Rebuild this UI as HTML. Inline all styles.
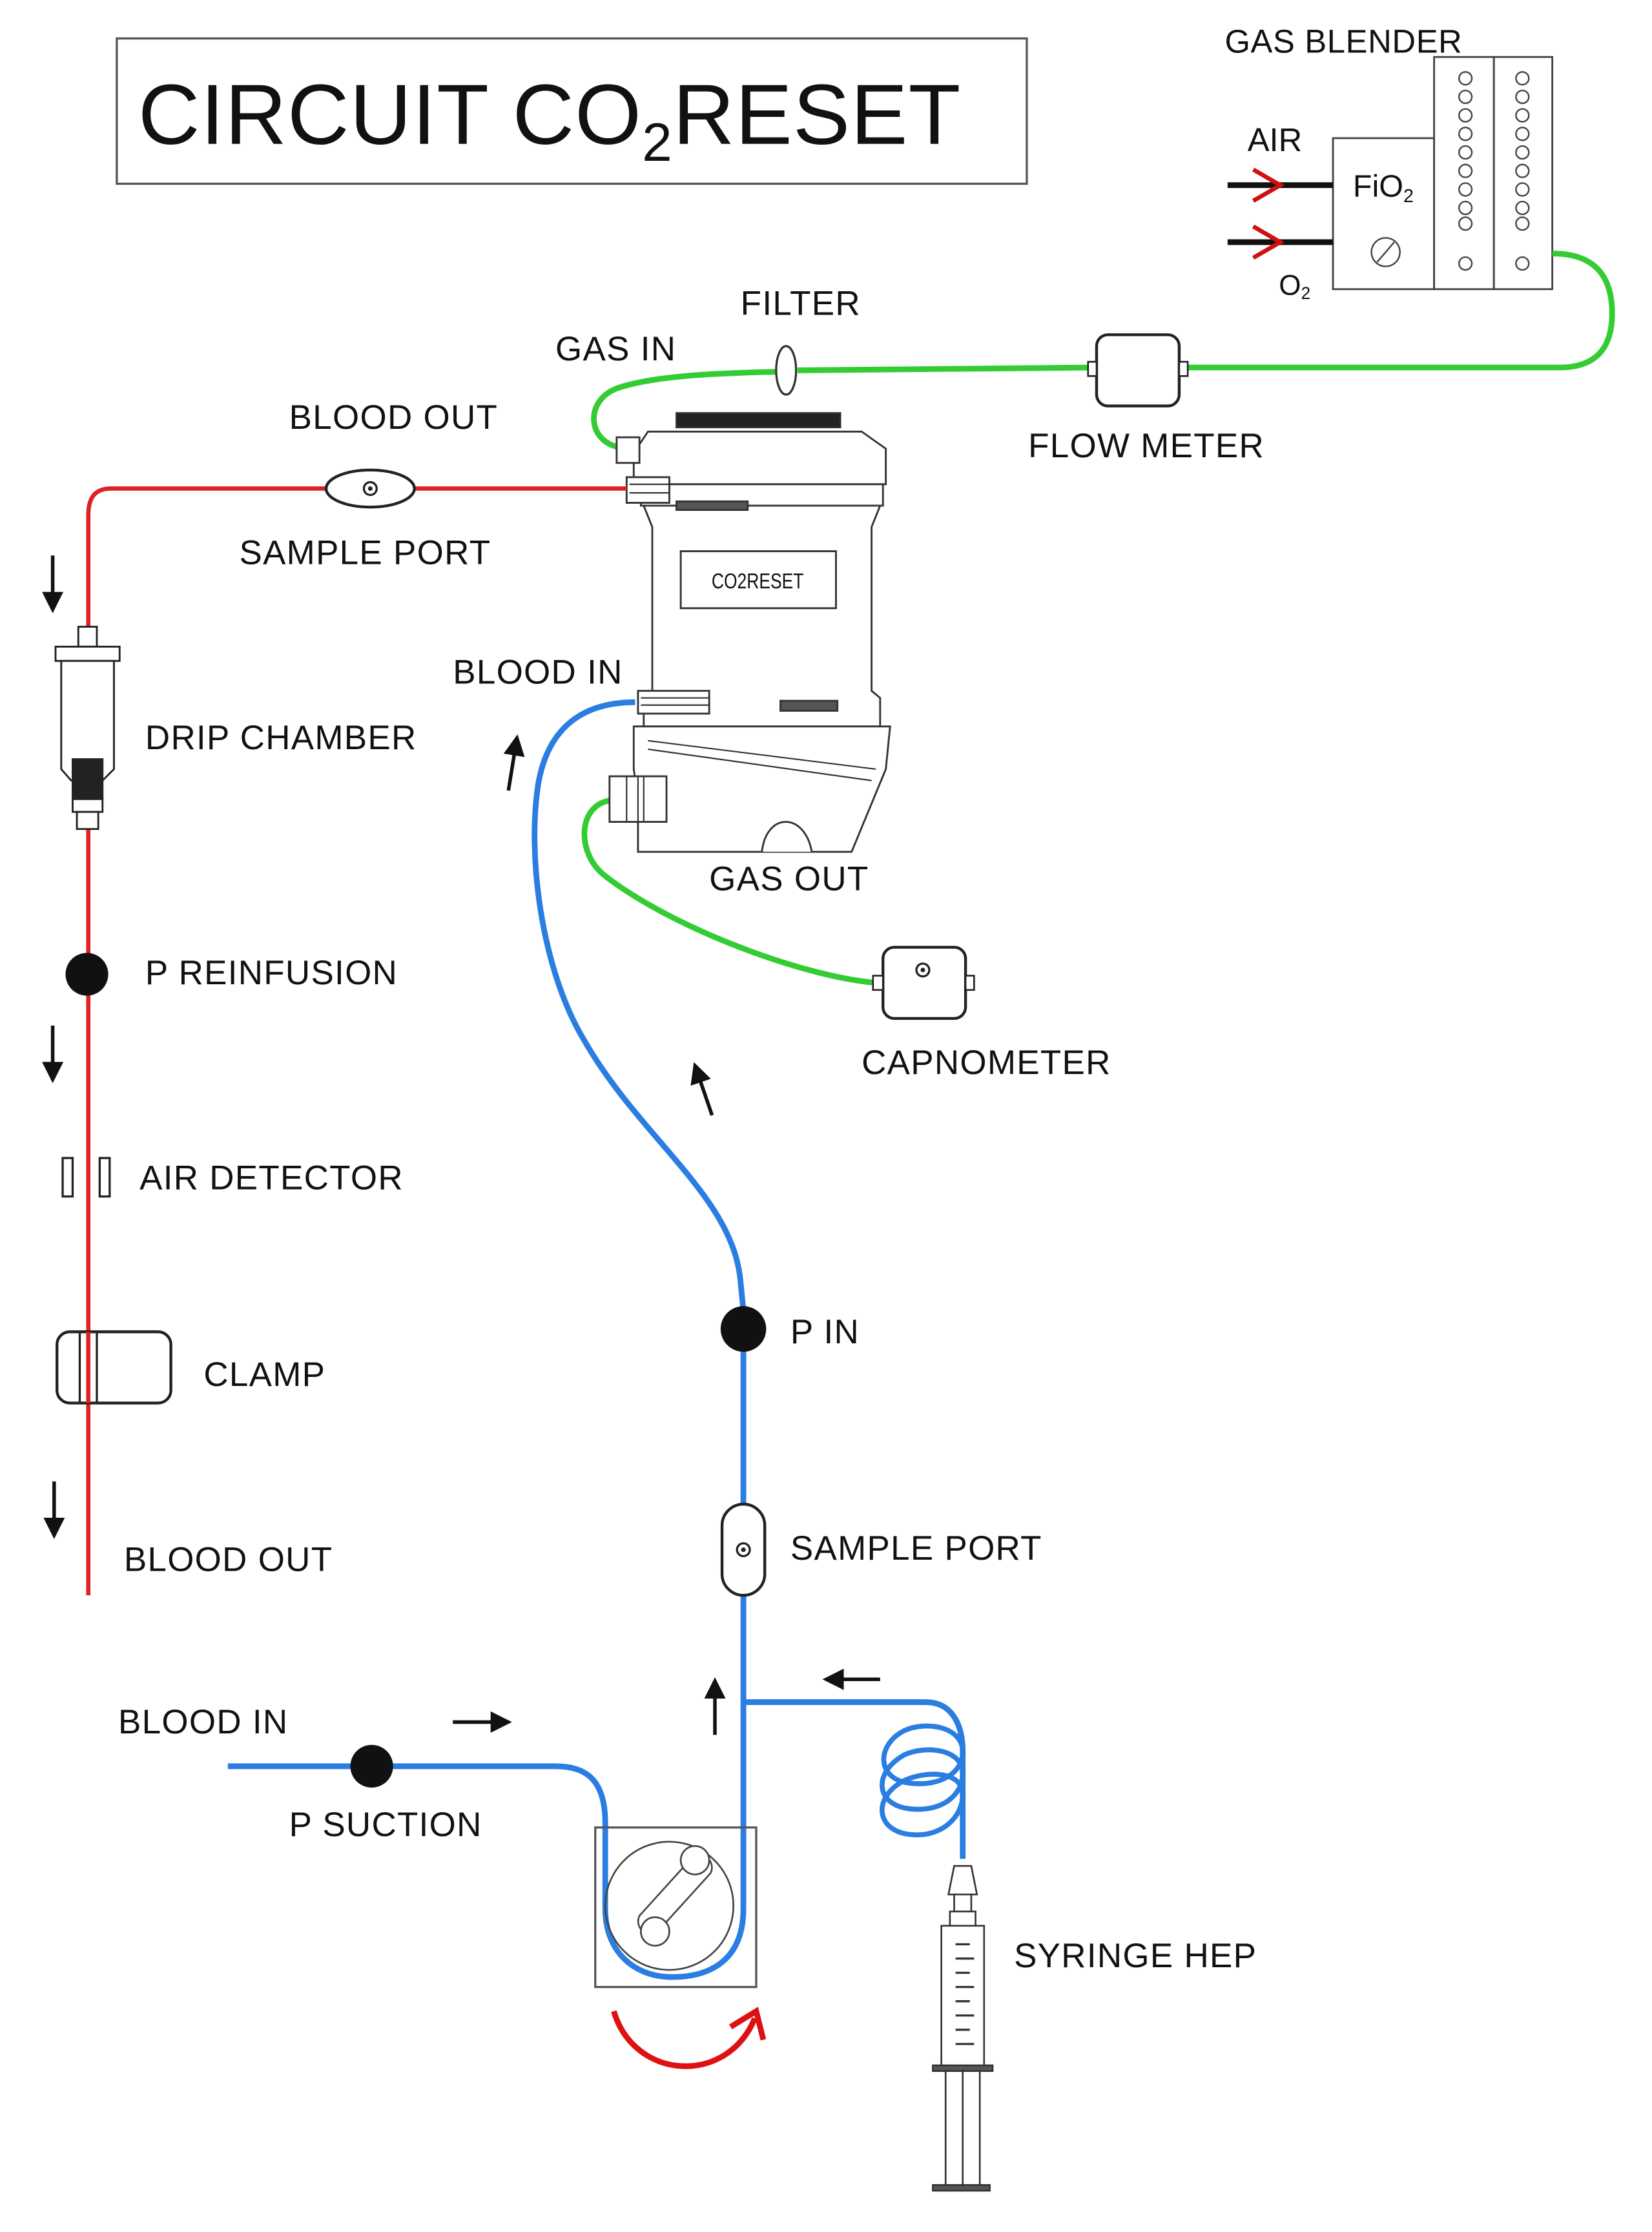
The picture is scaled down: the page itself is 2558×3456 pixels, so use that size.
<!DOCTYPE html>
<html><head><meta charset="utf-8"><style>
html,body{margin:0;padding:0;background:#fff;}
svg{display:block;}
text{font-family:"Liberation Sans",sans-serif;fill:#111;}
.l{font-size:24px;letter-spacing:0.6px;}
</style></head><body>
<svg width="2558" height="3456" viewBox="0 0 1160 1567" preserveAspectRatio="none" xmlns="http://www.w3.org/2000/svg">
<defs>
<marker id="ah" markerWidth="6" markerHeight="6" refX="5" refY="3" orient="auto" markerUnits="strokeWidth"><path d="M0,0 L6,3 L0,6 Z" fill="#111"/></marker>
</defs>
<rect width="1160" height="1567" fill="#fff"/>
<!-- Title -->
<rect x="82" y="27" width="639" height="102" fill="#fff" stroke="#555" stroke-width="1.5"/>
<text x="97" y="101" font-size="60" letter-spacing="0.5">CIRCUIT CO<tspan font-size="38" dy="12">2</tspan><tspan dy="-12">RESET</tspan></text>

<!-- Gas blender -->
<text x="860" y="37" font-size="23" letter-spacing="0.3">GAS BLENDER</text>
<rect x="936" y="97" width="71" height="106" fill="#fff" stroke="#444" stroke-width="1.3"/>
<rect x="1007" y="40" width="42" height="163" fill="#fff" stroke="#444" stroke-width="1.3"/>
<rect x="1049" y="40" width="41" height="163" fill="#fff" stroke="#444" stroke-width="1.3"/>
<g fill="none" stroke="#444" stroke-width="1.1">
<circle cx="1029" cy="55" r="4.5"/><circle cx="1029" cy="68" r="4.5"/><circle cx="1029" cy="81" r="4.5"/><circle cx="1029" cy="94" r="4.5"/><circle cx="1029" cy="107" r="4.5"/><circle cx="1029" cy="120" r="4.5"/><circle cx="1029" cy="133" r="4.5"/><circle cx="1029" cy="146" r="4.5"/><circle cx="1029" cy="157" r="4.5"/><circle cx="1029" cy="185" r="4.5"/>
<circle cx="1069" cy="55" r="4.5"/><circle cx="1069" cy="68" r="4.5"/><circle cx="1069" cy="81" r="4.5"/><circle cx="1069" cy="94" r="4.5"/><circle cx="1069" cy="107" r="4.5"/><circle cx="1069" cy="120" r="4.5"/><circle cx="1069" cy="133" r="4.5"/><circle cx="1069" cy="146" r="4.5"/><circle cx="1069" cy="157" r="4.5"/><circle cx="1069" cy="185" r="4.5"/>
<circle cx="973" cy="177" r="10"/><line x1="967" y1="184" x2="979" y2="170"/>
</g>
<text x="950" y="138" font-size="22">FiO<tspan font-size="13" dy="4">2</tspan></text>
<text x="876" y="106" font-size="23">AIR</text>
<text x="898" y="207" font-size="20">O<tspan font-size="12" dy="3">2</tspan></text>
<line x1="862" y1="130" x2="936" y2="130" stroke="#111" stroke-width="4"/>
<line x1="862" y1="170" x2="936" y2="170" stroke="#111" stroke-width="4"/>
<path d="M880,119 L899,130 L880,141" fill="none" stroke="#d01010" stroke-width="3"/>
<path d="M880,159 L899,170 L880,181" fill="none" stroke="#d01010" stroke-width="3"/>

<!-- Green gas lines -->
<g fill="none" stroke="#33cc33" stroke-width="4">
<path d="M1090,178 C1125,178 1132,200 1132,220 C1132,245 1120,258 1095,258 L828,258"/>
<path d="M770,258 L560,260"/>
<path d="M546,261 C500,262 460,264 435,272 C410,280 412,310 435,314"/>
<path d="M428,562 C405,566 405,600 425,615 C470,650 560,685 615,690"/>
</g>
<text x="520" y="221" class="l">FILTER</text>
<ellipse cx="552" cy="260" rx="7" ry="17" fill="#fff" stroke="#333" stroke-width="1.5"/>
<text x="390" y="253" class="l">GAS IN</text>
<rect x="770" y="235" width="58" height="50" rx="8" fill="#fff" stroke="#222" stroke-width="2"/>
<rect x="764" y="254" width="6" height="10" fill="#fff" stroke="#222" stroke-width="1.2"/>
<rect x="828" y="254" width="6" height="10" fill="#fff" stroke="#222" stroke-width="1.2"/>
<text x="722" y="321" class="l">FLOW METER</text>

<!-- Oxygenator -->
<g fill="#fff" stroke="#333" stroke-width="1.3">
<rect x="475" y="290" width="115" height="10" fill="#222"/>
<path d="M445,318 L455,303 L605,303 L622,315 L622,340 L445,340 Z"/>
<path d="M450,340 L620,340 L620,355 L450,355 Z"/>
<path d="M452,355 L618,355 L612,370 L612,485 L618,490 L618,510 L452,510 L452,490 L458,485 L458,370 Z"/>
<rect x="478" y="387" width="109" height="40"/>
<path d="M445,510 L625,510 L622,540 L598,598 L448,598 L448,560 L445,540 Z"/>
<path d="M535,598 C538,570 565,570 570,598" />
<rect x="428" y="545" width="40" height="32"/>
<rect x="433" y="307" width="16" height="18"/>
<rect x="440" y="335" width="30" height="18"/>
<rect x="448" y="485" width="50" height="16"/>
<rect x="475" y="352" width="50" height="6" fill="#555"/>
<rect x="548" y="492" width="40" height="7" fill="#555"/>
</g>
<g stroke="#333" stroke-width="1"><line x1="442" y1="340" x2="470" y2="340"/><line x1="442" y1="346" x2="470" y2="346"/><line x1="450" y1="490" x2="498" y2="490"/><line x1="450" y1="495" x2="498" y2="495"/><line x1="440" y1="545" x2="440" y2="577"/><line x1="448" y1="545" x2="448" y2="577"/><line x1="452" y1="545" x2="452" y2="577"/><line x1="455" y1="520" x2="615" y2="540"/><line x1="455" y1="526" x2="612" y2="548"/></g>
<text x="532" y="413" font-size="15" text-anchor="middle" transform="translate(532 0) scale(0.8 1) translate(-532 0)">CO2RESET</text>

<!-- Red line -->
<path d="M440,343 L78,343 C66,343 62,350 62,362 L62,1120" fill="none" stroke="#dd2222" stroke-width="3"/>
<ellipse cx="260" cy="343" rx="31" ry="13" fill="#fff" stroke="#222" stroke-width="2"/>
<circle cx="260" cy="343" r="4.5" fill="none" stroke="#222" stroke-width="1.5"/><circle cx="260" cy="343" r="1.6" fill="#222"/>
<text x="203" y="301" class="l">BLOOD OUT</text>
<text x="168" y="396" class="l">SAMPLE PORT</text>
<!-- drip chamber -->
<g fill="#fff" stroke="#222" stroke-width="1.3">
<rect x="55" y="440" width="13" height="14"/>
<rect x="39" y="454" width="45" height="10"/>
<path d="M43,464 L80,464 L80,540 L72,548 L50,548 L43,540 Z"/>
<rect x="51" y="533" width="21" height="28" fill="#222"/>
<rect x="51" y="561" width="21" height="9"/>
<rect x="54" y="570" width="15" height="12"/>
</g>
<text x="102" y="526" class="l">DRIP CHAMBER</text>
<circle cx="61" cy="684" r="15" fill="#111"/>
<text x="102" y="691" class="l">P REINFUSION</text>
<rect x="44" y="813" width="7" height="27" fill="#fff" stroke="#222" stroke-width="1.5"/>
<rect x="70" y="813" width="7" height="27" fill="#fff" stroke="#222" stroke-width="1.5"/>
<text x="98" y="835" class="l">AIR DETECTOR</text>
<rect x="40" y="935" width="80" height="50" rx="9" fill="#fff" stroke="#222" stroke-width="2"/>
<line x1="56" y1="935" x2="56" y2="985" stroke="#222" stroke-width="1.5"/>
<line x1="62" y1="935" x2="62" y2="985" stroke="#dd2222" stroke-width="3"/>
<line x1="68" y1="935" x2="68" y2="985" stroke="#222" stroke-width="1.5"/>
<text x="143" y="973" class="l">CLAMP</text>
<text x="87" y="1103" class="l">BLOOD OUT</text>
<g stroke="#111" stroke-width="2.5" marker-end="url(#ah)">
<line x1="37" y1="390" x2="37" y2="428"/>
<line x1="37" y1="720" x2="37" y2="758"/>
<line x1="38" y1="1040" x2="38" y2="1078"/>
<line x1="357" y1="555" x2="363" y2="518"/>
<line x1="500" y1="783" x2="488" y2="748"/>
<line x1="318" y1="1209" x2="357" y2="1209"/>
<line x1="502" y1="1218" x2="502" y2="1180"/>
<line x1="618" y1="1179" x2="580" y2="1179"/>
</g>

<!-- Blue line -->
<g fill="none" stroke="#2a7de1" stroke-width="4">
<path d="M446,493 C410,493 385,510 378,550 C370,600 380,680 410,730 C450,800 515,840 520,900 L522,920"/>
<path d="M522,948 L522,1340 C522,1375 500,1388 472,1388 C445,1388 425,1370 425,1340 L425,1280 C425,1250 412,1240 390,1240 L160,1240"/>
<path d="M522,1195 L650,1195 C668,1195 676,1210 676,1230 L676,1305"/>
<path d="M676,1230 C676,1212 650,1208 635,1215 C615,1225 615,1250 640,1252 C660,1254 676,1245 676,1230 M676,1245 C676,1228 650,1225 635,1232 C612,1245 615,1268 640,1270 C662,1272 676,1260 676,1245 M676,1260 C676,1243 650,1243 635,1250 C612,1262 615,1286 640,1288 C662,1290 676,1275 676,1260" stroke-width="3.5"/>
</g>
<text x="318" y="480" class="l">BLOOD IN</text>
<circle cx="522" cy="933" r="16" fill="#111"/>
<text x="555" y="943" class="l">P IN</text>
<rect x="507" y="1056" width="30" height="64" rx="15" fill="#fff" stroke="#222" stroke-width="2"/>
<circle cx="522" cy="1088" r="4.5" fill="none" stroke="#222" stroke-width="1.5"/><circle cx="522" cy="1088" r="1.6" fill="#222"/>
<text x="555" y="1095" class="l">SAMPLE PORT</text>
<text x="83" y="1217" class="l">BLOOD IN</text>
<circle cx="261" cy="1240" r="15" fill="#111"/>
<text x="203" y="1289" class="l">P SUCTION</text>

<!-- Pump -->
<rect x="418" y="1283" width="113" height="112" fill="none" stroke="#555" stroke-width="1.5"/>
<g fill="none" stroke="#444" stroke-width="1.2">
<circle cx="470" cy="1338" r="45"/>
<path d="M487,1303 L449,1345 A9,9 0 0 0 461,1357 L499,1315 A9,9 0 0 0 487,1303 Z"/>
<circle cx="488" cy="1306" r="10" fill="#fff"/>
<circle cx="460" cy="1356" r="10" fill="#fff"/>
</g>
<path d="M431,1412 C445,1460 510,1465 530,1417" fill="none" stroke="#dd1111" stroke-width="4"/>
<path d="M513,1423 L531,1412 L536,1432" fill="none" stroke="#dd1111" stroke-width="4"/>

<!-- Syringe -->
<g fill="#fff" stroke="#333" stroke-width="1.2">
<path d="M670,1310 L682,1310 L686,1330 L666,1330 Z"/>
<rect x="670" y="1330" width="12" height="12"/>
<rect x="667" y="1342" width="18" height="10"/>
<rect x="661" y="1352" width="30" height="100"/>
<rect x="655" y="1450" width="42" height="4" fill="#555"/>
<line x1="664" y1="1454" x2="664" y2="1535"/>
<line x1="688" y1="1454" x2="688" y2="1535"/>
<line x1="676" y1="1454" x2="676" y2="1535"/>
<rect x="655" y="1534" width="40" height="4" fill="#555"/>
</g>
<g stroke="#333" stroke-width="1.5">
<line x1="671" y1="1365" x2="681" y2="1365"/><line x1="671" y1="1375" x2="684" y2="1375"/><line x1="671" y1="1385" x2="681" y2="1385"/><line x1="671" y1="1395" x2="684" y2="1395"/><line x1="671" y1="1405" x2="681" y2="1405"/><line x1="671" y1="1415" x2="684" y2="1415"/><line x1="671" y1="1425" x2="681" y2="1425"/><line x1="671" y1="1435" x2="684" y2="1435"/>
</g>
<text x="712" y="1381" class="l">SYRINGE HEP</text>

<!-- Capnometer -->
<rect x="620" y="665" width="58" height="50" rx="8" fill="#fff" stroke="#222" stroke-width="2"/>
<rect x="613" y="685" width="7" height="10" fill="#fff" stroke="#222" stroke-width="1.2"/>
<rect x="678" y="685" width="6" height="10" fill="#fff" stroke="#222" stroke-width="1.2"/>
<circle cx="648" cy="681" r="4.5" fill="none" stroke="#222" stroke-width="1.5"/><circle cx="648" cy="681" r="1.6" fill="#222"/>
<text x="498" y="625" class="l">GAS OUT</text>
<text x="605" y="754" class="l">CAPNOMETER</text>
</svg>
</body></html>
